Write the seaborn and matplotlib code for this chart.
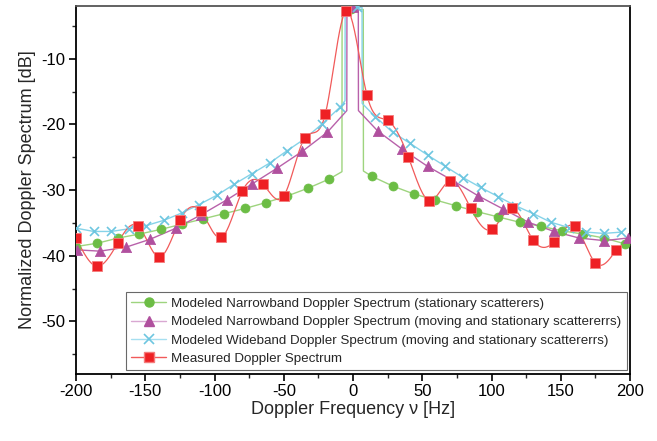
import numpy as np
import matplotlib
matplotlib.use("Agg")
import matplotlib.pyplot as plt
from matplotlib.lines import Line2D
from matplotlib.ticker import MultipleLocator
import seaborn as sns

sns.set_theme(style="ticks")
plt.rcParams['font.family'] = ['Liberation Sans', 'DejaVu Sans']
plt.rcParams['axes.unicode_minus'] = False

# Modeled narrowband, stationary scatterers (green circles)
nb_stat_f = [-200, -184.8, -169.5, -154.3, -139, -123.8, -108.5, -93.3, -78, -62.8, -47.5,
             -32.3, -17, -1.8, 13.5, 28.8, 44, 59.3, 74.5, 89.8, 105, 120.3, 135.5,
             150.8, 166, 181.3, 196.5]
nb_stat_db = [-38.6, -38.1, -37.3, -36.7, -36.0, -35.2, -34.4, -33.6, -32.8, -31.9, -30.9,
              -29.7, -28.3, -2.5, -27.9, -29.4, -30.6, -31.5, -32.4, -33.3, -34.1, -34.9,
              -35.5, -36.2, -36.7, -37.3, -38.2]
nb_stat_peak_f = [-8, -7.9, 7.4, 7.5]
nb_stat_peak_db = [-27.2, -2.5, -2.5, -27.1]

# Modeled narrowband, moving + stationary (magenta triangles)
nb_mov_f = [-199.5, -182.7, -164, -146.6, -127.8, -110, -91.2, -73.1, -55.1, -36.6, -18.6,
            0, 17.8, 35.6, 53.9, 72.4, 90.5, 108.5, 126.6, 145.1, 163.2, 181.4, 198.3]
nb_mov_db = [-39.1, -39.3, -38.7, -37.5, -35.8, -33.8, -31.5, -29.1, -26.7, -24.1, -21.2,
             -2.2, -21.0, -23.8, -26.4, -28.6, -30.9, -32.9, -34.9, -36.3, -37.3, -37.7, -37.3]
nb_mov_peak_f = [-4.5, -4.4, 3.8, 3.9]
nb_mov_peak_db = [-17.9, -2.2, -2.2, -17.9]

# Modeled wideband, moving + stationary (cyan crosses)
wb_f = [-200, -187.3, -174.6, -161.9, -149.2, -136.5, -123.8, -111.1, -98.4, -85.7, -73,
        -60.3, -47.6, -34.9, -22.2, -9.5, 3.2, 15.9, 28.6, 41.3, 54, 66.7, 79.4, 92.1,
        104.8, 117.5, 130.2, 142.9, 155.6, 168.3, 181, 193.7]
wb_db = [-35.8, -36.3, -36.3, -35.9, -35.4, -34.6, -33.5, -32.2, -30.8, -29.1, -27.5,
         -25.9, -24.0, -22.2, -19.9, -17.4, -2.2, -18.8, -21.2, -22.9, -24.7, -26.4, -28.1,
         -29.6, -31.0, -32.4, -33.6, -34.9, -35.7, -36.4, -36.6, -36.4]
wb_peak_f = [-5.8, -5.7, 6.5, 6.6]
wb_peak_db = [-16.4, -2.2, -2.2, -16.8]

# Measured (red squares)
meas_f = [-200, -185, -170, -155, -140, -125, -110, -95, -80, -65, -50, -35, -20, -5,
          10, 25, 40, 55, 70, 85, 100, 115, 130, 145, 160, 175, 190]
meas_db = [-37.3, -41.6, -38.1, -35.5, -40.2, -34.6, -33.2, -37.2, -30.2, -29.1, -30.9,
           -22.1, -18.4, -2.7, -15.5, -19.4, -25.0, -31.6, -28.6, -32.8, -36.0, -32.8,
           -37.6, -37.9, -35.5, -41.1, -39.1]

labels = ["Modeled Narrowband Doppler Spectrum (stationary scatterers)",
          "Modeled Narrowband Doppler Spectrum (moving and stationary scattererrs)",
          "Modeled Wideband Doppler Spectrum (moving and stationary scattererrs)",
          "Measured Doppler Spectrum"]


def natural_spline(x, y, per_seg=25):
    # smooth connector through the points, like a spline line in Origin
    x = np.asarray(x, float)
    y = np.asarray(y, float)
    n = len(x)
    h = np.diff(x)
    A = np.zeros((n, n))
    b = np.zeros(n)
    A[0, 0] = A[-1, -1] = 1
    for i in range(1, n - 1):
        A[i, i - 1] = h[i - 1]
        A[i, i] = 2 * (h[i - 1] + h[i])
        A[i, i + 1] = h[i]
        b[i] = 6 * ((y[i + 1] - y[i]) / h[i] - (y[i] - y[i - 1]) / h[i - 1])
    M = np.linalg.solve(A, b)
    xs, ys = [], []
    for i in range(n - 1):
        t = np.linspace(x[i], x[i + 1], per_seg, endpoint=False)
        a = x[i + 1] - t
        c = t - x[i]
        s = (M[i] * a ** 3 + M[i + 1] * c ** 3) / (6 * h[i]) \
            + (y[i] / h[i] - M[i] * h[i] / 6) * a + (y[i + 1] / h[i] - M[i + 1] * h[i] / 6) * c
        xs.extend(t)
        ys.extend(s)
    xs.append(x[-1])
    ys.append(y[-1])
    return np.array(xs), np.array(ys)


def line_with_peak(f, db, pf, pdb):
    # markers stay on f/db; the line also passes the steep shoulders of the peak
    pts = sorted(zip(list(f) + list(pf), list(db) + list(pdb)))
    keep = [p for p in pts if not (pf[1] <= p[0] <= pf[2])]
    keep = sorted(keep + [(pf[1], pdb[1]), (pf[2], pdb[2])])
    return [p[0] for p in keep], [p[1] for p in keep]


fig, ax = plt.subplots(figsize=(6.57, 4.41), dpi=100)
fig.subplots_adjust(left=0.1157, right=0.959, bottom=0.152, top=0.986)

series = [
    (nb_stat_f, nb_stat_db, nb_stat_peak_f, nb_stat_peak_db, '#9ed47e', '#6cbd45', 'o', 42),
    (nb_mov_f, nb_mov_db, nb_mov_peak_f, nb_mov_peak_db, '#b861aa', '#b0509e', '^', 55),
    (wb_f, wb_db, wb_peak_f, wb_peak_db, '#86d3e8', '#6ec6e0', 'x', 42),
]

for f, db, pf, pdb, lc, mc, mk, s in series:
    lx, ly = line_with_peak(f, db, pf, pdb)
    sns.lineplot(x=lx, y=ly, ax=ax, color=lc, lw=1.0, sort=False, estimator=None, zorder=2)
    if mk == 'x':
        sns.scatterplot(x=f, y=db, ax=ax, marker='x', s=s, color=mc, linewidth=1.2, zorder=3)
    else:
        sns.scatterplot(x=f, y=db, ax=ax, marker=mk, s=s, color=mc, edgecolor=mc,
                        linewidth=0.5, zorder=3)

sx, sy = natural_spline(meas_f, meas_db)
sns.lineplot(x=sx, y=sy, ax=ax, color='#f15a5a', lw=0.9, sort=False, estimator=None, zorder=2)
sns.scatterplot(x=meas_f, y=meas_db, ax=ax, marker='s', s=48, color='#ee2024',
                edgecolor='#f47c7c', linewidth=0.6, zorder=4)

ax.set_xlim(-200, 200)
ax.set_ylim(-58, -2)
ax.xaxis.set_major_locator(MultipleLocator(50))
ax.xaxis.set_minor_locator(MultipleLocator(25))
ax.set_yticks([-50, -40, -30, -20, -10])
ax.set_yticks(np.arange(-55, -4, 10), minor=True)
ax.tick_params(axis='both', which='major', direction='out', length=5, width=1.2,
               labelsize=12, colors='black', top=False, right=False, pad=2.5)
ax.tick_params(axis='both', which='minor', direction='out', length=3, width=1.0,
               top=False, right=False)
for side in ['left', 'bottom', 'right']:
    ax.spines[side].set_color('black')
    ax.spines[side].set_linewidth(1.3)
ax.spines['top'].set_color('#555555')
ax.spines['top'].set_linewidth(1.3)

ax.set_xlabel("Doppler Frequency \u03bd [Hz]", fontsize=13, labelpad=1)
ax.set_ylabel("Normalized Doppler Spectrum [dB]", fontsize=13, labelpad=4)

handles = [
    Line2D([], [], color='#9ed47e', lw=1.0, marker='o', ms=6.5, mfc='#6cbd45', mec='#6cbd45'),
    Line2D([], [], color='#d9a8d2', lw=1.0, marker='^', ms=7, mfc='#b0509e', mec='#b0509e'),
    Line2D([], [], color='#a6dff0', lw=1.0, marker='x', ms=6.5, mec='#6ec6e0', mew=1.2),
    Line2D([], [], color='#f15a5a', lw=1.0, marker='s', ms=6.5, mfc='#ee2024', mec='#f47c7c'),
]
leg = ax.legend(handles, labels, loc='lower left', bbox_to_anchor=(0.09, 0.01),
                fontsize=9.6, frameon=True, fancybox=False, handlelength=2.6,
                labelspacing=0.45, borderpad=0.4, handletextpad=0.4, borderaxespad=0)
leg.get_frame().set_edgecolor('#444444')
leg.get_frame().set_linewidth(0.8)

fig.savefig("out.png", dpi=100)
